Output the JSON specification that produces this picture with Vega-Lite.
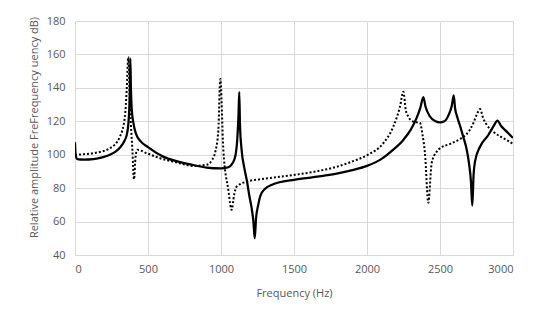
{
  "$schema": "https://vega.github.io/schema/vega-lite/v6.json",
  "width": 438,
  "height": 234,
  "autosize": {"type": "none"},
  "padding": {"left": 75, "top": 21, "right": 37, "bottom": 73},
  "background": "white",
  "datasets": {
    "solid": [
      {"f":0,"a":107.5},{"f":4,"a":100},{"f":15,"a":97.3},{"f":60,"a":97},{"f":125,"a":97.3},{"f":180,"a":98.3},{"f":240,"a":100},{"f":280,"a":102},{"f":310,"a":104.5},{"f":340,"a":108.5},{"f":355,"a":112},{"f":365,"a":118},{"f":372,"a":128},{"f":376,"a":140},{"f":379,"a":157.5},{"f":383,"a":140},{"f":388,"a":128},{"f":400,"a":119},{"f":420,"a":112},{"f":450,"a":108},{"f":500,"a":104.5},{"f":600,"a":99},{"f":700,"a":96},{"f":800,"a":94},{"f":900,"a":92.3},{"f":1000,"a":91.8},{"f":1050,"a":92.5},{"f":1080,"a":95},{"f":1100,"a":100},{"f":1112,"a":110},{"f":1120,"a":124},{"f":1125,"a":137.5},{"f":1130,"a":118},{"f":1141,"a":103},{"f":1160,"a":92},{"f":1176,"a":85},{"f":1195,"a":75},{"f":1210,"a":68},{"f":1222,"a":60},{"f":1231,"a":50},{"f":1240,"a":62},{"f":1255,"a":70},{"f":1270,"a":75.5},{"f":1300,"a":79.5},{"f":1350,"a":82},{"f":1400,"a":83.5},{"f":1500,"a":85},{"f":1600,"a":86.2},{"f":1700,"a":87.4},{"f":1800,"a":88.8},{"f":1900,"a":90.8},{"f":2000,"a":93.3},{"f":2100,"a":97.5},{"f":2180,"a":103},{"f":2250,"a":109},{"f":2300,"a":115},{"f":2340,"a":122},{"f":2365,"a":128},{"f":2386,"a":134.5},{"f":2400,"a":129},{"f":2430,"a":123},{"f":2470,"a":120},{"f":2500,"a":119.3},{"f":2530,"a":120},{"f":2560,"a":124},{"f":2580,"a":129},{"f":2594,"a":135.5},{"f":2603,"a":128},{"f":2620,"a":122},{"f":2640,"a":116.5},{"f":2660,"a":110.5},{"f":2683,"a":103},{"f":2700,"a":94},{"f":2712,"a":84},{"f":2721,"a":69.5},{"f":2730,"a":88},{"f":2740,"a":96},{"f":2774,"a":104.8},{"f":2831,"a":111.8},{"f":2870,"a":117.5},{"f":2893,"a":120.4},{"f":2920,"a":117},{"f":2957,"a":113.8},{"f":3000,"a":110}
    ],
    "dotted": [
      {"f":0,"a":99.9},{"f":60,"a":100.3},{"f":125,"a":100.9},{"f":240,"a":103.9},{"f":308,"a":110.9},{"f":342,"a":122.8},{"f":354,"a":138.7},{"f":365,"a":158.5},{"f":377,"a":128.7},{"f":393,"a":102.9},{"f":404,"a":85.3},{"f":415,"a":99},{"f":427,"a":102.9},{"f":491,"a":100.9},{"f":582,"a":97.9},{"f":700,"a":95.3},{"f":810,"a":93.3},{"f":902,"a":94},{"f":940,"a":97},{"f":959,"a":101},{"f":982,"a":114.8},{"f":995,"a":145.3},{"f":1016,"a":102.9},{"f":1050,"a":79},{"f":1073,"a":67},{"f":1090,"a":76},{"f":1107,"a":80.9},{"f":1176,"a":83.9},{"f":1267,"a":85.3},{"f":1400,"a":86.8},{"f":1507,"a":88},{"f":1650,"a":90},{"f":1781,"a":92.5},{"f":1900,"a":96},{"f":2005,"a":99.9},{"f":2112,"a":106.9},{"f":2180,"a":116.8},{"f":2226,"a":128.8},{"f":2249,"a":137.7},{"f":2265,"a":127},{"f":2283,"a":122.8},{"f":2317,"a":119.8},{"f":2363,"a":119},{"f":2380,"a":112},{"f":2397,"a":100.9},{"f":2420,"a":71.3},{"f":2443,"a":95},{"f":2477,"a":101.8},{"f":2500,"a":103.9},{"f":2570,"a":106.5},{"f":2637,"a":109.4},{"f":2683,"a":112.4},{"f":2728,"a":118.8},{"f":2751,"a":123.8},{"f":2774,"a":127.3},{"f":2795,"a":122},{"f":2820,"a":117.9},{"f":2865,"a":113.8},{"f":2957,"a":108.8},{"f":3000,"a":106.5}
    ]
  },
  "encoding": {
    "x": {
      "field": "f", "type": "quantitative",
      "scale": {"domain": [0, 3000], "nice": false, "zero": false},
      "axis": {
        "title": "Frequency (Hz)",
        "values": [0, 500, 1000, 1500, 2000, 2500, 3000],
        "format": "d",
        "grid": true, "domain": false, "ticks": false,
        "labelPadding": 8, "titleY": 38, "titleBaseline": "middle"
      }
    },
    "y": {
      "field": "a", "type": "quantitative",
      "scale": {"domain": [40, 180], "nice": false, "zero": false},
      "axis": {
        "title": "Relative amplitude FreFrequency uency dB)",
        "values": [40, 60, 80, 100, 120, 140, 160, 180],
        "format": "d",
        "grid": true, "domain": false, "ticks": false,
        "labelPadding": 10,
        "titleX": -41, "titleY": 106, "titleAlign": "center", "titleBaseline": "middle", "titleAngle": 270
      }
    }
  },
  "layer": [
    {
      "data": {"name": "dotted"},
      "mark": {"type": "line", "color": "black", "strokeWidth": 2, "strokeDash": [2, 2], "interpolate": "monotone", "clip": true}
    },
    {
      "data": {"name": "solid"},
      "mark": {"type": "line", "color": "black", "strokeWidth": 2.25, "interpolate": "monotone", "clip": true}
    }
  ],
  "config": {
    "view": {"stroke": null},
    "axis": {
      "gridColor": "#d9d9d9", "gridWidth": 1,
      "labelFont": "Open Sans", "labelFontSize": 11, "labelColor": "#595959",
      "titleFont": "Open Sans", "titleFontSize": 11, "titleFontWeight": "normal", "titleColor": "#595959"
    }
  }
}
